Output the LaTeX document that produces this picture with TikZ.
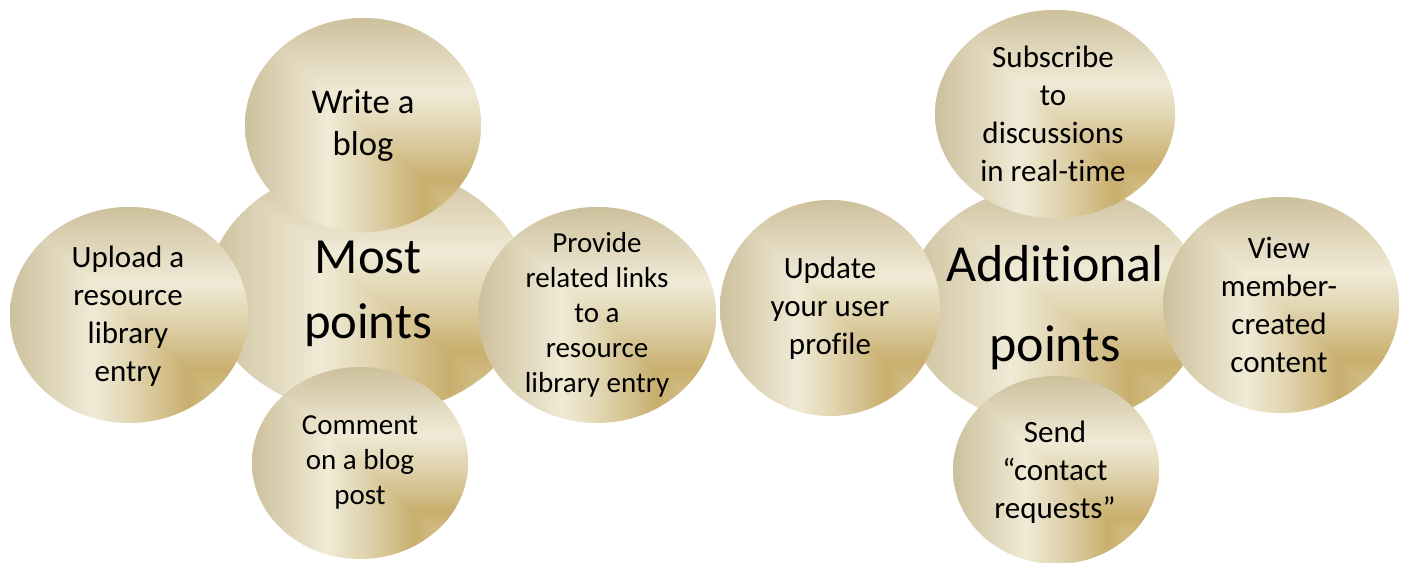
\documentclass[tikz,border=0pt]{standalone}
\usepackage{fontspec}
\setmainfont{Carlito}[Ligatures={TeX,NoCommon}]
\definecolor{gA}{RGB}{205,192,156}
\definecolor{gB}{RGB}{240,234,214}
\definecolor{gC}{RGB}{226,215,180}
\definecolor{gD}{RGB}{201,175,110}
\definecolor{gE}{RGB}{222,207,160}
\pgfdeclarehorizontalshading{goldx}{100bp}{color(0bp)=(gA); color(25bp)=(gA); color(42.5bp)=(gB); color(50bp)=(gC); color(62.5bp)=(gD); color(75bp)=(gE); color(100bp)=(gE)}
\pgfdeclareverticalshading{goldy}{100bp}{color(0bp)=(gE); color(25bp)=(gE); color(37.5bp)=(gD); color(50bp)=(gC); color(57.5bp)=(gB); color(75bp)=(gA); color(100bp)=(gA)}
\newcommand\goldblob[4]{%
  \begin{scope}
    \clip (#1,#2) ellipse [x radius=#3, y radius=#4];
    \shade[shading=goldx] (#1-#3,#2-#4) rectangle (#1+#3,#2+#4);
    \begin{scope}
      \clip (#1-#3,#2-#4) -- (#1+#3,#2-#4) -- (#1+#3,#2+#4) -- cycle;
      \shade[shading=goldy] (#1-#3,#2-#4) rectangle (#1+#3,#2+#4);
    \end{scope}
  \end{scope}}
\newcommand\myfA{\fontsize{23.25}{28.5}\selectfont}
\newcommand\myfW{\fontsize{26}{31.5}\selectfont}
\newcommand\myfP{\fontsize{21.75}{26.25}\selectfont}
\newcommand\myfM{\fontsize{38}{48.75}\selectfont}
\newcommand\myfD{\fontsize{39}{60}\selectfont}
\tikzset{txt/.style={align=center, inner sep=0pt, text=black}}
\begin{document}
\begin{tikzpicture}[x=0.75pt,y=-0.75pt]
  \fill[white] (0,0) rectangle (1402,562);
  \useasboundingbox (0,0) rectangle (1402,562);
  % left group
  \goldblob{368}{290}{160}{125}
  \node[txt, font=\myfM] (most) at (368,294) {Most\\points};
  \goldblob{363}{125}{118}{107}
  \node[txt, font=\myfW] (blog) at (363,126) {Write a\\blog};
  \goldblob{129}{315}{119}{108}
  \node[txt, font=\myfA] (upload) at (128,316) {Upload a\\resource\\library\\entry};
  \goldblob{597}{315}{119}{108}
  \node[txt, font=\myfP] (provide) at (597,315) {Provide\\related links\\to a\\resource\\library entry};
  \goldblob{360}{463}{108}{96}
  \node[txt, font=\myfP] (comment) at (360,462) {Comment\\on a blog\\post};
  % right group
  \goldblob{1055}{305}{148}{120}
  \node[txt, font=\myfD] (addl) at (1055,308) {Additional\\points};
  \goldblob{1055}{114}{120}{104}
  \node[txt, font=\myfA] (subscribe) at (1053,114) {Subscribe\\to\\discussions\\in real-time};
  \goldblob{830}{308}{110}{108}
  \node[txt, font=\myfA] (update) at (830,308) {Update\\your user\\profile};
  \goldblob{1281}{305}{118}{108}
  \node[txt, font=\myfA] (view) at (1279,305) {View\\member-\\created\\content};
  \goldblob{1056}{470}{103}{94}
  \node[txt, font=\myfA] (send) at (1055,472) {Send\\“contact\\requests”};
\end{tikzpicture}
\end{document}
